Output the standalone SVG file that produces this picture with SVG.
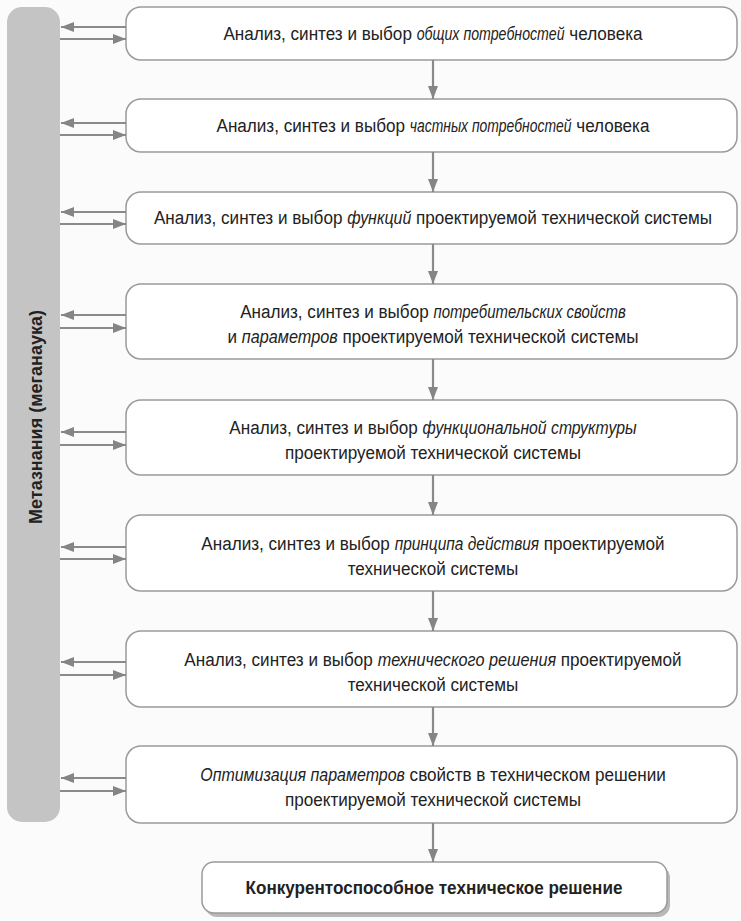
<svg xmlns="http://www.w3.org/2000/svg" width="741" height="921" viewBox="0 0 741 921">
<defs>
<marker id="ah" viewBox="0 0 13 10" refX="13" refY="5" markerWidth="13" markerHeight="10" markerUnits="userSpaceOnUse" orient="auto">
<path d="M0,0 L13,5 L0,10 z" fill="#858585"/>
</marker>
<style>
.box{fill:#ffffff;stroke:#9a9a9a;stroke-width:1.5}
.t{font-family:"Liberation Sans",Arial,sans-serif;font-size:19px;fill:#222222;text-anchor:middle}
.i{font-style:italic}
.b{font-weight:bold}
.c{stroke:#8a8a8a;stroke-width:2.2;fill:none;marker-end:url(#ah)}
</style>
</defs>
<rect x="0" y="0" width="741" height="921" fill="#fbfbfb"/>
<g id="meta">
<rect x="7" y="7" width="53" height="815" rx="15" fill="#c4c4c4"/>
<text class="t b" style="font-size:18px" transform="translate(42,417) rotate(-90)">Метазнания (меганаука)</text>
</g>
<g id="n1"><rect class="box" x="126" y="7" width="611" height="53" rx="15"/>
<text class="t" x="433" y="40" transform="matrix(0.9 0 0 1 43.3 0)">Анализ, синтез и выбор <tspan class="i" textLength="164.4" lengthAdjust="spacingAndGlyphs">общих потребностей</tspan> человека</text></g>
<g id="n2"><rect class="box" x="126" y="99" width="611" height="53" rx="15"/>
<text class="t" x="433" y="132" transform="matrix(0.9 0 0 1 43.3 0)">Анализ, синтез и выбор <tspan class="i" textLength="179.7" lengthAdjust="spacingAndGlyphs">частных потребностей</tspan> человека</text></g>
<g id="n3"><rect class="box" x="126" y="192" width="611" height="52" rx="15"/>
<text class="t" x="433" y="224" transform="matrix(0.9 0 0 1 43.3 0)">Анализ, синтез и выбор <tspan class="i" textLength="71.3" lengthAdjust="spacingAndGlyphs">функций</tspan> проектируемой технической системы</text></g>
<g id="n4"><rect class="box" x="126" y="284" width="611" height="75" rx="15"/>
<text class="t" x="433" y="318" transform="matrix(0.9 0 0 1 43.3 0)">Анализ, синтез и выбор <tspan class="i" textLength="213.8" lengthAdjust="spacingAndGlyphs">потребительских свойств</tspan></text>
<text class="t" x="433" y="343" transform="matrix(0.9 0 0 1 43.3 0)">и <tspan class="i" textLength="106.5" lengthAdjust="spacingAndGlyphs">параметров</tspan> проектируемой технической системы</text></g>
<g id="n5"><rect class="box" x="126" y="400" width="611" height="75" rx="15"/>
<text class="t" x="433" y="434" transform="matrix(0.9 0 0 1 43.3 0)">Анализ, синтез и выбор <tspan class="i" textLength="237.8" lengthAdjust="spacingAndGlyphs">функциональной структуры</tspan></text>
<text class="t" x="433" y="459" transform="matrix(0.9 0 0 1 43.3 0)">проектируемой технической системы</text></g>
<g id="n6"><rect class="box" x="126" y="515" width="611" height="76" rx="15"/>
<text class="t" x="433" y="550" transform="matrix(0.9 0 0 1 43.3 0)">Анализ, синтез и выбор <tspan class="i" textLength="160.5" lengthAdjust="spacingAndGlyphs">принципа действия</tspan> проектируемой</text>
<text class="t" x="433" y="575" transform="matrix(0.9 0 0 1 43.3 0)">технической системы</text></g>
<g id="n7"><rect class="box" x="126" y="631" width="611" height="76" rx="15"/>
<text class="t" x="433" y="666" transform="matrix(0.9 0 0 1 43.3 0)">Анализ, синтез и выбор <tspan class="i" textLength="198.3" lengthAdjust="spacingAndGlyphs">технического решения</tspan> проектируемой</text>
<text class="t" x="433" y="691" transform="matrix(0.9 0 0 1 43.3 0)">технической системы</text></g>
<g id="n8"><rect class="box" x="126" y="746" width="611" height="77" rx="15"/>
<text class="t" x="433" y="781" transform="matrix(0.9 0 0 1 43.3 0)"><tspan class="i" textLength="227.4" lengthAdjust="spacingAndGlyphs">Оптимизация параметров</tspan> свойств в техническом решении</text>
<text class="t" x="433" y="806" transform="matrix(0.9 0 0 1 43.3 0)">проектируемой технической системы</text></g>
<g id="result">
<rect x="205" y="866" width="465" height="51" rx="12" fill="#b8b8b8"/>
<rect class="box" x="202" y="862" width="465" height="51" rx="12"/>
<text class="t b" x="434" y="894" transform="matrix(0.9 0 0 1 43.4 0)">Конкурентоспособное техническое решение</text></g>
<g id="connectors">
<line class="c" x1="433" y1="60" x2="433" y2="99"/>
<line class="c" x1="433" y1="152" x2="433" y2="192"/>
<line class="c" x1="433" y1="244" x2="433" y2="284"/>
<line class="c" x1="433" y1="359" x2="433" y2="400"/>
<line class="c" x1="433" y1="475" x2="433" y2="515"/>
<line class="c" x1="433" y1="591" x2="433" y2="631"/>
<line class="c" x1="433" y1="707" x2="433" y2="746"/>
<line class="c" x1="433" y1="823" x2="433" y2="862"/>
<line class="c" x1="126" y1="27" x2="61" y2="27"/><line class="c" x1="60" y1="39" x2="126" y2="39"/>
<line class="c" x1="126" y1="123" x2="61" y2="123"/><line class="c" x1="60" y1="135" x2="126" y2="135"/>
<line class="c" x1="126" y1="212" x2="61" y2="212"/><line class="c" x1="60" y1="224" x2="126" y2="224"/>
<line class="c" x1="126" y1="315" x2="61" y2="315"/><line class="c" x1="60" y1="328" x2="126" y2="328"/>
<line class="c" x1="126" y1="432" x2="61" y2="432"/><line class="c" x1="60" y1="445" x2="126" y2="445"/>
<line class="c" x1="126" y1="547" x2="61" y2="547"/><line class="c" x1="60" y1="559" x2="126" y2="559"/>
<line class="c" x1="126" y1="662" x2="61" y2="662"/><line class="c" x1="60" y1="675" x2="126" y2="675"/>
<line class="c" x1="126" y1="778" x2="61" y2="778"/><line class="c" x1="60" y1="791" x2="126" y2="791"/>
</g>
</svg>
